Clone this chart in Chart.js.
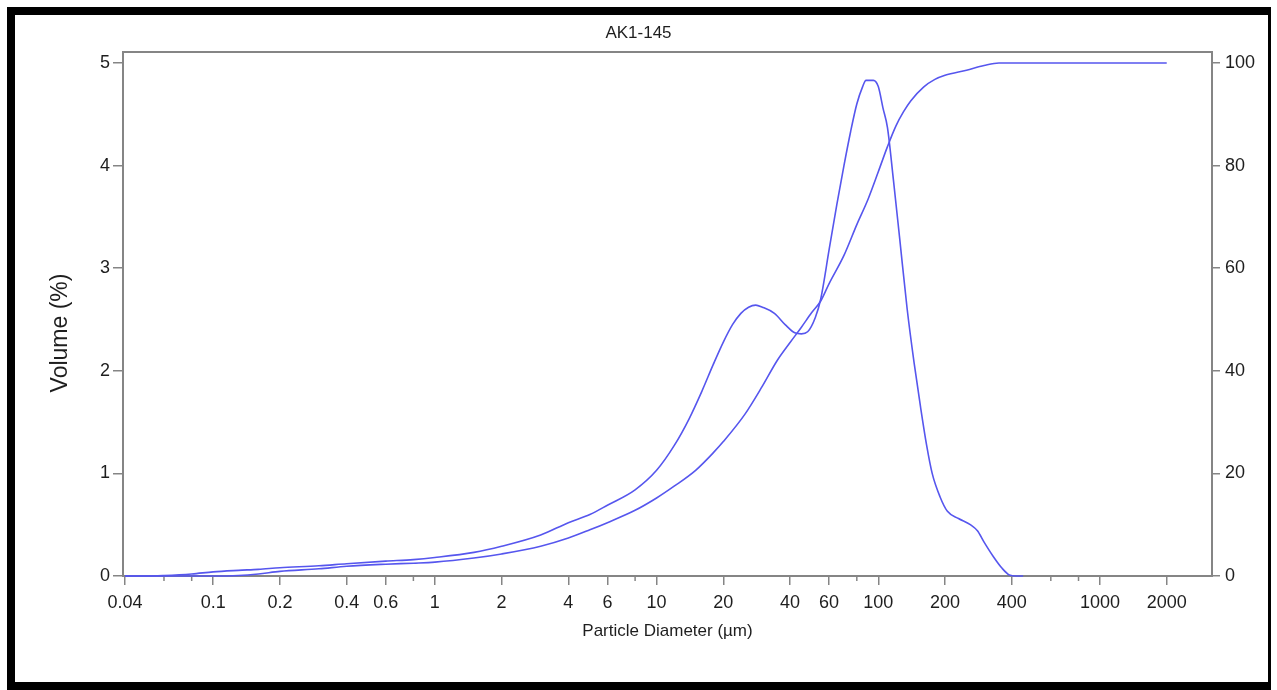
<!DOCTYPE html>
<html>
<head>
<meta charset="utf-8">
<title>AK1-145</title>
<script src="https://cdn.jsdelivr.net/npm/chart.js@4.4.1/dist/chart.umd.min.js"></script>
<style>
    html, body { margin: 0; padding: 0; background: #fff; overflow: hidden; }
    #wrap { position: relative; width: 1277px; height: 690px; }
    #chart { position: absolute; left: 0; top: 0; }
    #frame {
        position: absolute; left: 7px; top: 7px; width: 1264px; height: 683px;
        box-sizing: border-box; pointer-events: none;
        border-style: solid; border-color: #000;
        border-width: 8px 3px 8px 8px;
    }
</style>
</head>
<body>
<div id="wrap">
    <canvas id="chart" width="1277" height="690"></canvas>
    <div id="frame"></div>
</div>
<script>
// Particle size distribution, sample AK1-145
const volumeSizes = [0.04, 0.05, 0.06, 0.08, 0.1, 0.13, 0.16, 0.2, 0.3, 0.4, 0.6, 0.8, 1, 1.5, 2, 3, 4, 5, 6, 8,
    10, 12, 14, 16, 18, 20, 22, 24, 26, 28, 30, 34, 38, 42, 45, 48, 52, 55, 60, 65,
    70, 75, 80, 85, 88, 95, 100, 105, 110, 117, 125, 135, 145, 155, 165, 175, 190, 205, 230, 260,
    280, 300, 330, 360, 390, 420, 450];
const volumeValues = [0, 0, 0.005, 0.02, 0.04, 0.055, 0.065, 0.08, 0.10, 0.12, 0.145, 0.16, 0.18, 0.23, 0.29, 0.40, 0.52, 0.60, 0.69, 0.84,
    1.03, 1.27, 1.53, 1.80, 2.06, 2.28, 2.45, 2.56, 2.62, 2.64, 2.62, 2.56, 2.45, 2.37, 2.36, 2.38, 2.52, 2.70, 3.18, 3.62,
    4.00, 4.33, 4.60, 4.77, 4.83, 4.83, 4.77, 4.56, 4.37, 3.86, 3.28, 2.60, 2.08, 1.65, 1.28, 1.00, 0.77, 0.63, 0.56, 0.50,
    0.44, 0.33, 0.19, 0.08, 0.01, 0, 0];

const cumulativeSizes = [0.04, 0.1, 0.13, 0.16, 0.2, 0.3, 0.4, 0.6, 0.8, 1, 1.5, 2, 3, 4, 5, 6, 8, 10, 12, 15,
    18, 20, 25, 30, 35, 40, 45, 50, 55, 60, 70, 80, 90, 100, 110, 120, 130, 140, 160, 180,
    200, 250, 300, 350, 1000, 2000];
const cumulativeValues = [0, 0, 0.1, 0.4, 0.9, 1.4, 1.9, 2.3, 2.5, 2.7, 3.5, 4.3, 5.8, 7.4, 9.0, 10.4, 12.8, 15.2, 17.5, 20.6,
    24.0, 26.2, 31.5, 37.0, 42.0, 45.5, 48.5, 51.3, 53.6, 57.0, 62.5, 68.5, 73.5, 78.8, 83.7, 87.7, 90.5, 92.6, 95.3, 96.8,
    97.6, 98.6, 99.5, 100, 100, 100];

// tick labels
const xMajorTicks = [0.04, 0.1, 0.2, 0.4, 0.6, 1, 2, 4, 6, 10, 20, 40, 60, 100, 200, 400, 1000, 2000];
const xMinorTicks = [0.06, 0.08, 0.8, 8, 80, 600, 800];
const leftTicks = [0, 1, 2, 3, 4, 5];
const rightTicks = [0, 20, 40, 60, 80, 100];

const FONT = "'Liberation Sans', Arial, sans-serif";
const LINE_COLOR = '#5656ee';
const AXIS_COLOR = '#858585';
const TEXT_COLOR = '#1e1e1e';

Chart.defaults.font.family = FONT;
Chart.defaults.color = TEXT_COLOR;

/**
 * Draws the plot box, the short minor ticks and the rotated y title
 */
const plotFrame = {
    id: 'plotFrame',
    beforeDatasetsDraw(chart) {
        const { ctx, chartArea: a, scales: { x } } = chart;
        ctx.save();
        ctx.strokeStyle = AXIS_COLOR;
        ctx.lineWidth = 2;
        ctx.strokeRect(a.left, a.top, a.right - a.left, a.bottom - a.top);

        ctx.lineWidth = 1.5;
        xMinorTicks.forEach(v => {
            const px = x.getPixelForValue(v);
            ctx.beginPath();
            ctx.moveTo(px, a.bottom);
            ctx.lineTo(px, a.bottom + 5);
            ctx.stroke();
        });
        ctx.restore();
    },
    afterDraw(chart) {
        const { ctx, chartArea: a } = chart;
        ctx.save();
        ctx.translate(61, (a.top + a.bottom) / 2 + 19);
        ctx.rotate(-Math.PI / 2);
        ctx.font = '23px ' + FONT;
        ctx.fillStyle = TEXT_COLOR;
        ctx.textAlign = 'center';
        ctx.textBaseline = 'middle';
        ctx.fillText('Volume (%)', 0, 0);
        ctx.restore();
    }
};

function toPoints(sizes, values) {
    return sizes.map((d, i) => ({ x: d, y: values[i] }));
}

new Chart(document.getElementById('chart'), {
    type: 'line',
    data: {
        datasets: [{
            label: 'Volume (%)',
            data: toPoints(volumeSizes, volumeValues),
            yAxisID: 'y',
            borderColor: LINE_COLOR,
            borderWidth: 1.6,
            pointRadius: 0,
            cubicInterpolationMode: 'monotone',
            clip: 4
        }, {
            label: 'Cumulative (%)',
            data: toPoints(cumulativeSizes, cumulativeValues),
            yAxisID: 'y1',
            borderColor: LINE_COLOR,
            borderWidth: 1.6,
            pointRadius: 0,
            cubicInterpolationMode: 'monotone',
            clip: 4
        }]
    },
    options: {
        responsive: false,
        animation: false,
        devicePixelRatio: 1,
        layout: { padding: 0 },
        plugins: {
            legend: { display: false },
            tooltip: { enabled: false },
            title: {
                display: true,
                text: 'AK1-145',
                color: TEXT_COLOR,
                font: { size: 17, weight: 'normal' },
                padding: { top: 23, bottom: 8.6 }
            }
        },
        scales: {
            x: {
                type: 'logarithmic',
                position: 'bottom',
                min: 0.0392,
                max: 3200,
                afterBuildTicks: s => { s.ticks = xMajorTicks.map(value => ({ value })); },
                afterFit: s => { s.height = 114; },
                ticks: {
                    autoSkip: false,
                    maxRotation: 0,
                    padding: 7,
                    font: { size: 18 },
                    callback: v => String(v)
                },
                grid: { drawOnChartArea: false, tickLength: 9, color: AXIS_COLOR, lineWidth: 1.5 },
                border: { display: false },
                title: {
                    display: true,
                    text: 'Particle Diameter (µm)',
                    font: { size: 17 },
                    padding: { top: 0, bottom: 48 }
                }
            },
            y: {
                type: 'linear',
                position: 'left',
                min: 0,
                max: 5.107,
                afterBuildTicks: s => { s.ticks = leftTicks.map(value => ({ value })); },
                afterFit: s => { s.width = 123; },
                ticks: { padding: 3, font: { size: 18 } },
                grid: { drawOnChartArea: false, tickLength: 10, color: AXIS_COLOR, lineWidth: 1.5 },
                border: { display: false }
            },
            y1: {
                type: 'linear',
                position: 'right',
                min: 0,
                max: 102.14,
                afterBuildTicks: s => { s.ticks = rightTicks.map(value => ({ value })); },
                afterFit: s => { s.width = 65; },
                ticks: { padding: 5, font: { size: 18 } },
                grid: { drawOnChartArea: false, tickLength: 8, color: AXIS_COLOR, lineWidth: 1.5 },
                border: { display: false }
            }
        }
    },
    plugins: [plotFrame]
});
</script>
</body>
</html>
